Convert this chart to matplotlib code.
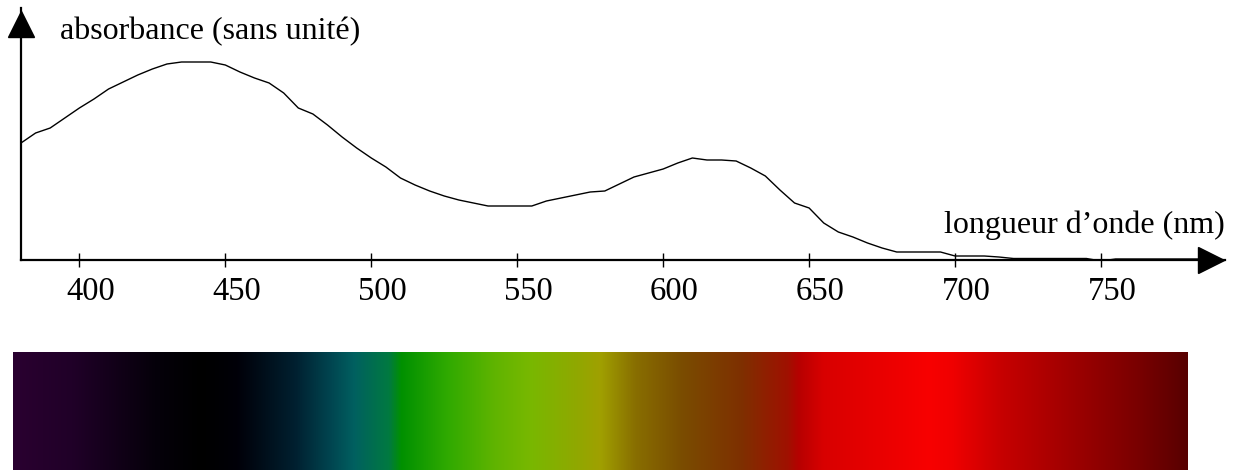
import matplotlib
matplotlib.use('Agg')
import numpy as np
from matplotlib import pyplot as plt
from matplotlib.colors import LinearSegmentedColormap
from matplotlib.transforms import ScaledTranslation

plt.rcParams['font.family'] = ['Liberation Serif', 'DejaVu Serif']

# absorption spectrum (arbitrary units)
wavelength = [380, 385, 390, 395, 400, 405, 410, 415, 420, 425, 430, 435, 440, 445,
              450, 455, 460, 465, 470, 475, 480, 485, 490, 495, 500, 505, 510, 515,
              520, 525, 530, 535, 540, 545, 550, 555, 560, 565, 570, 575, 580, 585,
              590, 595, 600, 605, 610, 615, 620, 625, 630, 635, 640, 645, 650, 655,
              660, 665, 670, 675, 680, 685, 690, 695, 700, 705, 710, 715, 720, 730,
              740, 745, 750, 755, 760, 770, 785]
absorbance = [1.17, 1.27, 1.32, 1.42, 1.52, 1.61, 1.71, 1.78, 1.85, 1.91, 1.96, 1.98, 1.98, 1.98,
              1.95, 1.88, 1.82, 1.77, 1.67, 1.52, 1.46, 1.35, 1.23, 1.12, 1.02, 0.93, 0.82, 0.75,
              0.69, 0.64, 0.60, 0.57, 0.54, 0.54, 0.54, 0.54, 0.59, 0.62, 0.65, 0.68, 0.69, 0.76,
              0.83, 0.87, 0.91, 0.97, 1.02, 1.00, 1.00, 0.99, 0.92, 0.84, 0.70, 0.57, 0.52, 0.37,
              0.28, 0.23, 0.17, 0.12, 0.08, 0.08, 0.08, 0.08, 0.04, 0.04, 0.04, 0.03, 0.015, 0.015,
              0.015, 0.015, -0.01, 0.01, 0.01, 0.01, 0.01]
xticks = [400, 450, 500, 550, 600, 650, 700, 750]

# colour band under the chart (position along band, colour)
band_pos = [0.0, 0.05, 0.12, 0.16, 0.19, 0.24, 0.27, 0.29, 0.32, 0.33, 0.37, 0.41, 0.44,
            0.48, 0.50, 0.53, 0.57, 0.62, 0.66, 0.67, 0.69, 0.78, 0.80, 0.84, 0.90, 0.96, 1.0]
band_col = ['#2a0030', '#200028', '#05000a', '#000000', '#000008', '#002030', '#004550',
            '#006060', '#007a40', '#009000', '#30aa00', '#60b400', '#78b800', '#90a800',
            '#a0a000', '#886e00', '#7a4c00', '#7e3000', '#a01000', '#b80000', '#d80000',
            '#f80000', '#f00000', '#c80000', '#a00000', '#780000', '#580000']

W, H = 1242, 471
fig = plt.figure(figsize=(W / 100, H / 100), dpi=100)

ax = fig.add_axes([21 / W, (H - 260) / H, (1225 - 21) / W, (260 - 8) / H])
ax.plot(wavelength, absorbance, color='black', lw=1.0)
ax.set_xlim(380, 380 + (1225 - 21) / 2.919)
ax.set_ylim(0, 2.52)
for s in ['top', 'right']:
    ax.spines[s].set_visible(False)
ax.spines['left'].set_linewidth(1.6)
ax.spines['bottom'].set_linewidth(1.6)
ax.set_yticks([])
ax.set_xticks(xticks)
ax.tick_params(axis='x', direction='inout', length=9.5, width=1.0, pad=7, labelsize=23.5)
# the labels sit a little to the right of their ticks in the original
shift = ScaledTranslation(11 / 100, 0, fig.dpi_scale_trans)
for lab in ax.get_xticklabels():
    lab.set_transform(lab.get_transform() + shift)
ax.plot(787.8, 0, '>', color='black', markersize=19, clip_on=False, zorder=5)
ax.plot(380, 2.36, '^', color='black', markersize=19, clip_on=False, zorder=5)
ax.text(393.4, 2.21, 'absorbance (sans unité)', fontsize=23, va='baseline', ha='left')
ax.text(792.4, 0.27, 'longueur d\u2019onde (nm)', fontsize=23, va='baseline', ha='right')

cmap = LinearSegmentedColormap.from_list('band', list(zip(band_pos, band_col)), N=512)
axb = fig.add_axes([13 / W, 1 / H, (1188 - 13) / W, (470 - 352) / H])
axb.imshow(np.linspace(0, 1, 512)[None, :], cmap=cmap, aspect='auto')
axb.axis('off')

fig.savefig('out.png', dpi=100)
